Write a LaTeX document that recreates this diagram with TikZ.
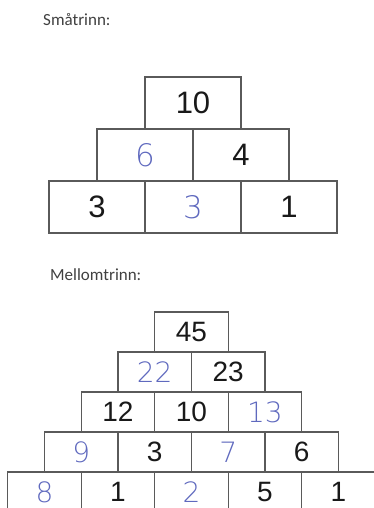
\documentclass[tikz,border=0pt]{standalone}
\usepackage{fontspec}
\setmainfont{Liberation Sans}
\newfontfamily\labelfont{Carlito}
\newfontfamily\handfont{DejaVu Sans}[UprightFont={* ExtraLight}]
\definecolor{boxgray}{RGB}{90,90,90}
\definecolor{inkblue}{RGB}{95,105,190}
\newcommand\handnum[1]{{\handfont\color{inkblue}#1}}
\begin{document}
\begin{tikzpicture}[x=1pt,y=-1pt,
  brick/.style={draw=boxgray,line width=1.3pt,inner sep=0pt,text=black!90},
  heading/.style={anchor=base west,inner sep=0pt,text=black!75,
    font=\labelfont\fontsize{17}{19}\selectfont}]
\useasboundingbox (0,0) rectangle (374,508);
\clip (0,0) rectangle (374,508);
\def\brickRow#1#2#3#4#5#6{%
  \foreach \t [count=\k] in {#6}
    \node[brick,minimum width=#4,minimum height=#5] (#1\k) at (#2+\k*#4-0.5*#4,#3) {\t};}
\node[heading] (small) at (43,26) {Småtrinn:};
\begin{scope}[brick/.append style={font=\fontsize{31}{33}\selectfont}]
\brickRow{sa}{145}{103}{96}{52}{10}
\brickRow{sb}{97}{155}{96}{52}{\handnum{6},4}
\brickRow{sc}{49}{207}{96}{52}{3,\handnum{3},1}
\end{scope}
\node[heading] (middle) at (50,280) {Mellomtrinn:};
\begin{scope}[brick/.append style={font=\fontsize{28}{30}\selectfont}]
\brickRow{ma}{154.75}{332}{73.5}{40}{45}
\brickRow{mb}{118}{372}{73.5}{40}{\handnum{22},23}
\brickRow{mc}{81.25}{412}{73.5}{40}{12,10,\handnum{13}}
\brickRow{md}{44.5}{452}{73.5}{40}{\handnum{9},3,\handnum{7},6}
\brickRow{me}{7.75}{492}{73.5}{40}{\handnum{8},1,\handnum{2},5,1}
\end{scope}
\end{tikzpicture}
\end{document}
